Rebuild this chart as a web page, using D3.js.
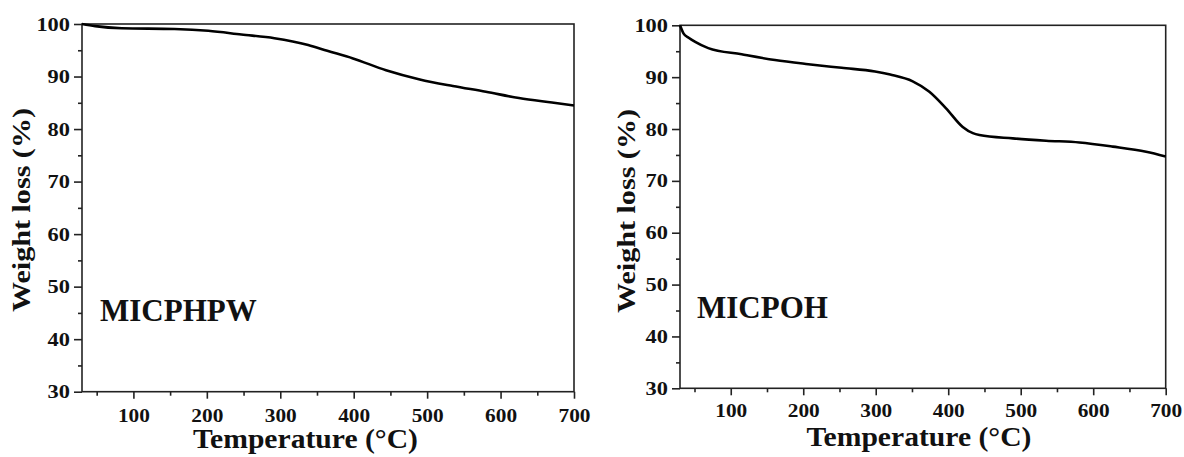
<!DOCTYPE html>
<html>
<head>
<meta charset="utf-8">
<script src="https://cdn.jsdelivr.net/npm/d3@7"></script>
<style>
  body { margin: 0; background: #fff; }
  svg { display: block; }
  text { font-family: "Liberation Serif", "Times New Roman", Times, serif; font-weight: bold; fill: #111; }
</style>
</head>
<body>
<svg id="chart" width="1184" height="457"></svg>
<script>
// TGA curves
const tempMICPHPW = [30, 48, 84, 156, 202, 247, 292, 338, 364, 399, 444, 490, 535, 580, 625, 670, 700];
const weightMICPHPW = [100, 99.6, 99.2, 99.05, 98.7, 98.0, 97.3, 96.0, 94.9, 93.45, 91.2, 89.45, 88.2, 87.1, 85.9, 85.05, 84.5];

const tempMICPOH = [30, 35, 42, 51, 69, 115, 161, 207, 253, 299, 320, 351, 374, 397, 420, 434, 443, 489, 535, 581, 627, 673, 700];
const weightMICPOH = [100, 98.4, 97.6, 96.8, 95.6, 94.4, 93.3, 92.5, 91.8, 91.1, 90.5, 89.2, 87.2, 84.0, 80.4, 79.2, 78.85, 78.2, 77.75, 77.4, 76.6, 75.6, 74.7];

const xMajorTicks = [100, 200, 300, 400, 500, 600, 700];
const xMinorTicks = [50, 150, 250, 350, 450, 550, 650];
const yMajorTicks = [30, 40, 50, 60, 70, 80, 90, 100];
const yMinorTicks = [35, 45, 55, 65, 75, 85, 95];

const xTitle = "Temperature (\u00B0C)";
const yTitle = "Weight loss (%)";

const panels = [
    { name: "MICPHPW", temp: tempMICPHPW, weight: weightMICPHPW,
      left: 82, right: 574, top: 24, bottom: 391.7,
      nameX: 100, nameY: 320.5, xTitleX: 305.5, xTitleY: 448, yTitleX: 30, yTitleY: 210, tickDy: 30 },
    { name: "MICPOH", temp: tempMICPOH, weight: weightMICPOH,
      left: 680, right: 1165.7, top: 25.3, bottom: 388.3,
      nameX: 697, nameY: 318, xTitleX: 919, xTitleY: 446, yTitleX: 635, yTitleY: 211, tickDy: 29 }
];

const svg = d3.select("#chart");

panels.forEach(p => {
    const xScale = d3.scaleLinear().domain([30, 700]).range([p.left, p.right]);
    const yScale = d3.scaleLinear().domain([30, 100]).range([p.bottom, p.top]);
    const g = svg.append("g");

    // frame
    g.append("rect")
        .attr("x", p.left).attr("y", p.top)
        .attr("width", p.right - p.left).attr("height", p.bottom - p.top)
        .attr("fill", "none").attr("stroke", "#222").attr("stroke-width", 1.6);

    // x axis
    const xAxis = g.append("g")
        .attr("transform", `translate(0,${p.bottom})`)
        .call(d3.axisBottom(xScale).tickValues(xMajorTicks).tickSize(7).tickPadding(0));
    xAxis.select(".domain").remove();
    xAxis.selectAll(".tick line").attr("stroke", "#222").attr("stroke-width", 1.6);
    xAxis.selectAll(".tick text")
        .attr("y", p.tickDy).attr("dy", null)
        .style("font-size", "18px")
        .attr("textLength", 32).attr("lengthAdjust", "spacingAndGlyphs");
    g.append("g")
        .attr("transform", `translate(0,${p.bottom})`)
        .call(d3.axisBottom(xScale).tickValues(xMinorTicks).tickSize(4).tickFormat(""))
        .call(a => a.select(".domain").remove())
        .selectAll(".tick line").attr("stroke", "#222").attr("stroke-width", 1.6);

    // y axis
    const yAxis = g.append("g")
        .attr("transform", `translate(${p.left},0)`)
        .call(d3.axisLeft(yScale).tickValues(yMajorTicks).tickSize(8).tickPadding(4));
    yAxis.select(".domain").remove();
    yAxis.selectAll(".tick line").attr("stroke", "#222").attr("stroke-width", 1.6);
    yAxis.selectAll(".tick text")
        .style("font-size", "18px")
        .attr("dy", "0.34em")
        .attr("textLength", d => String(d).length * 11.2)
        .attr("lengthAdjust", "spacingAndGlyphs");
    g.append("g")
        .attr("transform", `translate(${p.left},0)`)
        .call(d3.axisLeft(yScale).tickValues(yMinorTicks).tickSize(4).tickFormat(""))
        .call(a => a.select(".domain").remove())
        .selectAll(".tick line").attr("stroke", "#222").attr("stroke-width", 1.6);

    // curve
    const points = p.temp.map((t, i) => [t, p.weight[i]]);
    const line = d3.line()
        .x(d => xScale(d[0]))
        .y(d => yScale(d[1]))
        .curve(d3.curveMonotoneX);
    g.append("path")
        .attr("d", line(points))
        .attr("fill", "none")
        .attr("stroke", "#000")
        .attr("stroke-width", 2.6)
        .attr("stroke-linejoin", "round");

    // titles
    g.append("text")
        .attr("x", p.xTitleX).attr("y", p.xTitleY)
        .attr("text-anchor", "middle")
        .style("font-size", "27px")
        .attr("textLength", 225).attr("lengthAdjust", "spacingAndGlyphs")
        .text(xTitle);

    g.append("text")
        .attr("transform", `translate(${p.yTitleX},${p.yTitleY}) rotate(-90)`)
        .attr("text-anchor", "middle")
        .style("font-size", "26px")
        .attr("textLength", 204).attr("lengthAdjust", "spacingAndGlyphs")
        .text(yTitle);

    g.append("text")
        .attr("x", p.nameX).attr("y", p.nameY)
        .style("font-size", "31px")
        .text(p.name);
});
</script>
</body>
</html>
